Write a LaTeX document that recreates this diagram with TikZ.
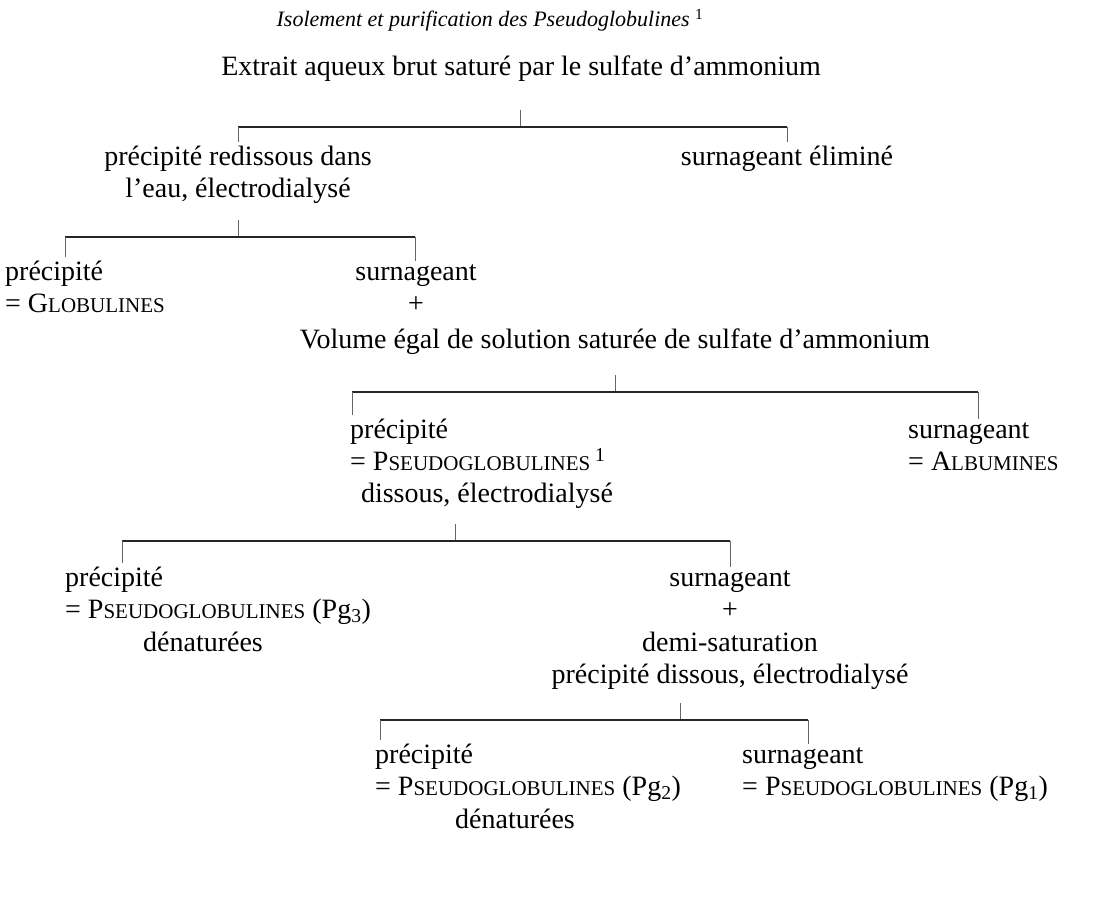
\documentclass[tikz,border=0pt]{standalone}
\usepackage{fontspec}
\setmainfont{Liberation Serif}
\usetikzlibrary{positioning}

\newcommand{\fs}{\fontsize{28}{32.5}\selectfont}
\newcommand{\ttl}{\fontsize{22}{26}\selectfont\itshape}
\newcommand{\sca}[2]{#1{\fontsize{21}{21}\selectfont #2}}

\begin{document}
\begin{tikzpicture}[x=1pt,y=-1pt]
\tikzset{txt/.style={inner sep=0pt,font=\fs,align=left,anchor=base west},
  ctxt/.style={inner sep=0pt,font=\fs,align=center,anchor=base},
  bar/.style={draw=black!85,line width=1.2pt},
  drop/.style={draw=black!60,line width=0.6pt,shorten >=3pt}}
\useasboundingbox (0,0) rectangle (1097,910);

% title, first split (multi-line nodes sit on their last baseline)
\node[ctxt,font=\ttl] (title) at (490,27) {Isolement et purification des Pseudoglobulines \textsuperscript{\upshape 1}};
\node[ctxt] (extrait) at (521,75) {Extrait aqueux brut satur\'e par le sulfate d'ammonium};
\node[ctxt] (pr1) at (238,197.5) {pr\'ecipit\'e redissous dans\\l'eau, \'electrodialys\'e};
\node[ctxt] (sur1) at (787,165) {surnageant \'elimin\'e};
\coordinate (j1) at (520,127);
\draw[drop] (j1) -- ++(0,-20);
\draw[bar] (pr1.north |- j1) -- (sur1.north |- j1);
\draw[drop] (pr1.north |- j1) -- (pr1.north);
\draw[drop] (sur1.north |- j1) -- (sur1.north);

% second split
\node[txt] (pr2) at (5,312.5) {pr\'ecipit\'e\\= \sca{G}{LOBULINES}};
\node[ctxt] (sur2) at (416,312.5) {surnageant\\+};
\node[ctxt] (vol) at (615,348) {Volume \'egal de solution satur\'ee de sulfate d'ammonium};
\coordinate (j2) at (238,237);
\coordinate (l2a) at (65,237);
\coordinate (l2b) at (415,237);
\draw[drop] (j2) -- ++(0,-20);
\draw[bar] (l2a) -- (l2b);
\draw[drop] (l2a) -- (l2a |- pr2.north);
\draw[drop] (l2b) -- (l2b |- sur2.north);

% third split
\node[txt] (pr3) at (350,470.5) {pr\'ecipit\'e\\= \sca{P}{SEUDOGLOBULINES}\,\textsuperscript{1}};
\node[ctxt] (diss3) at (487,502) {dissous, \'electrodialys\'e};
\node[txt] (sur3) at (908,470.5) {surnageant\\= \sca{A}{LBUMINES}};
\coordinate (j3) at (615,392);
\coordinate (l3a) at (352,392);
\coordinate (l3b) at (978,392);
\draw[drop] (j3) -- ++(0,-20);
\draw[bar] (l3a) -- (l3b);
\draw[drop] (l3a) -- (l3a |- pr3.north);
\draw[drop] (l3b) -- (l3b |- sur3.north);

% fourth split
\node[txt] (pr4) at (65,618.5) {pr\'ecipit\'e\\= \sca{P}{SEUDOGLOBULINES} (Pg\textsubscript{3})};
\node[ctxt] (den4) at (203,651) {d\'enatur\'ees};
\node[ctxt] (sur4) at (730,683.5) {surnageant\\+\\demi-saturation\\pr\'ecipit\'e dissous, \'electrodialys\'e};
\coordinate (j4) at (455,541);
\coordinate (l4a) at (122,541);
\coordinate (l4b) at (730,541);
\draw[drop] (j4) -- ++(0,-20);
\draw[bar] (l4a) -- (l4b);
\draw[drop] (l4a) -- (l4a |- pr4.north);
\draw[drop] (l4b) -- (l4b |- sur4.north);

% fifth split
\node[txt] (pr5) at (375,795.5) {pr\'ecipit\'e\\= \sca{P}{SEUDOGLOBULINES} (Pg\textsubscript{2})};
\node[ctxt] (den5) at (515,828) {d\'enatur\'ees};
\node[txt] (sur5) at (742,795.5) {surnageant\\= \sca{P}{SEUDOGLOBULINES} (Pg\textsubscript{1})};
\coordinate (j5) at (680,720);
\coordinate (l5a) at (380,720);
\coordinate (l5b) at (808,720);
\draw[drop] (j5) -- ++(0,-20);
\draw[bar] (l5a) -- (l5b);
\draw[drop] (l5a) -- (l5a |- pr5.north);
\draw[drop] (l5b) -- (l5b |- sur5.north);
\end{tikzpicture}
\end{document}
